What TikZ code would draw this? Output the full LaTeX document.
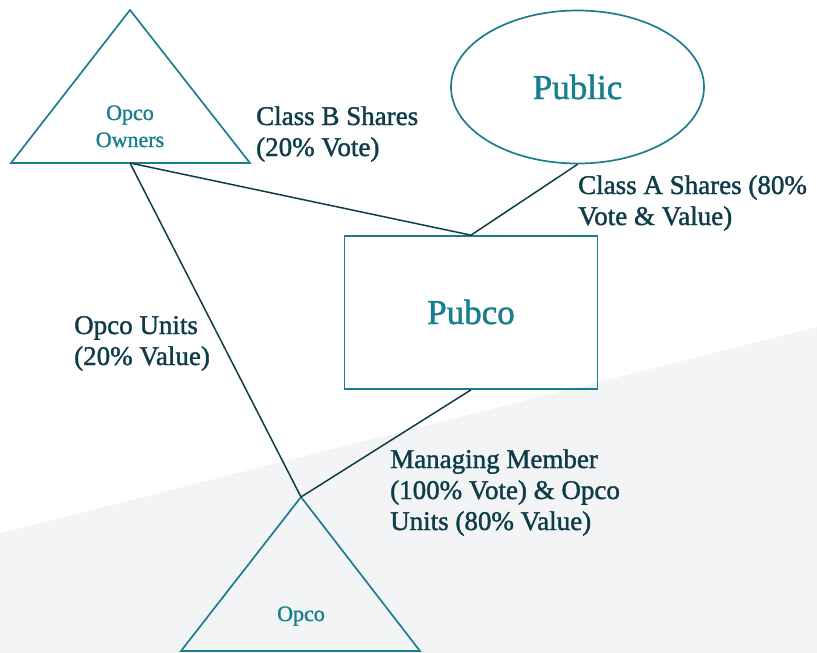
\documentclass[tikz,border=0pt]{standalone}
\usepackage{fontspec}
\setmainfont{Liberation Serif}[FakeBold=1.4]
\usetikzlibrary{shapes.geometric}
\definecolor{teal1}{HTML}{1A7F8C}
\definecolor{dark1}{HTML}{0E3C48}
\definecolor{bg1}{HTML}{F3F4F6}
\tikzset{
  shapeline/.style={draw=teal1, line width=1.7pt},
  conn/.style={draw=dark1, line width=1.5pt},
  lbl/.style={anchor=base west, align=left, text=dark1, inner sep=0pt,
    font=\fontsize{27pt}{31pt}\selectfont},
  big/.style={text=teal1, inner sep=0pt, font=\fontsize{35pt}{40pt}\selectfont},
  small/.style={text=teal1, inner sep=0pt, align=center, font=\fontsize{22pt}{27pt}\selectfont},
}
\begin{document}
\begin{tikzpicture}[x=1pt,y=-1pt]
\useasboundingbox (0,0) rectangle (817,653);
\fill[bg1] (0,533) -- (817,327) -- (817,653) -- (0,653) -- cycle;
% Opco Owners triangle
\draw[shapeline] (130,10) -- (250,163) -- (11,163) -- cycle;
\coordinate (oo) at (130,163);
\node[small, anchor=base] (ootext) at (130,120) {Opco};
\node[small, anchor=base] (ootext2) at (130,147) {Owners};
% Opco triangle
\draw[shapeline] (301,497) -- (420,651) -- (181,651) -- cycle;
\coordinate (op) at (301,497);
\node[small, anchor=base] (optext) at (301,621) {Opco};
% Public
\node[shapeline, ellipse, minimum width=253pt, minimum height=153pt, inner sep=0pt] (pub) at (577.5,87) {};
\node[big, anchor=base] (pubtext) at (577.5,99) {Public};
% Pubco
\node[shapeline, rectangle, minimum width=253pt, minimum height=153pt, inner sep=0pt] (pbc) at (471,312.5) {};
\node[big, anchor=base] (pbctext) at (471,324) {Pubco};
% connectors
\draw[conn] (oo) -- (pbc.north);
\draw[conn] (pub.south) -- (pbc.north);
\draw[conn] (oo) -- (op);
\draw[conn] (pbc.south) -- (op);
% labels (anchor at baseline of last line)
\node[lbl] (l1) at (256,156) {Class B Shares\\(20\% Vote)};
\node[lbl] (l2) at (578,225) {Class A Shares (80\%\\Vote \& Value)};
\node[lbl] (l3) at (74,365) {Opco Units\\(20\% Value)};
\node[lbl] (l4) at (390,530) {Managing Member\\(100\% Vote) \& Opco\\Units (80\% Value)};
\end{tikzpicture}
\end{document}
